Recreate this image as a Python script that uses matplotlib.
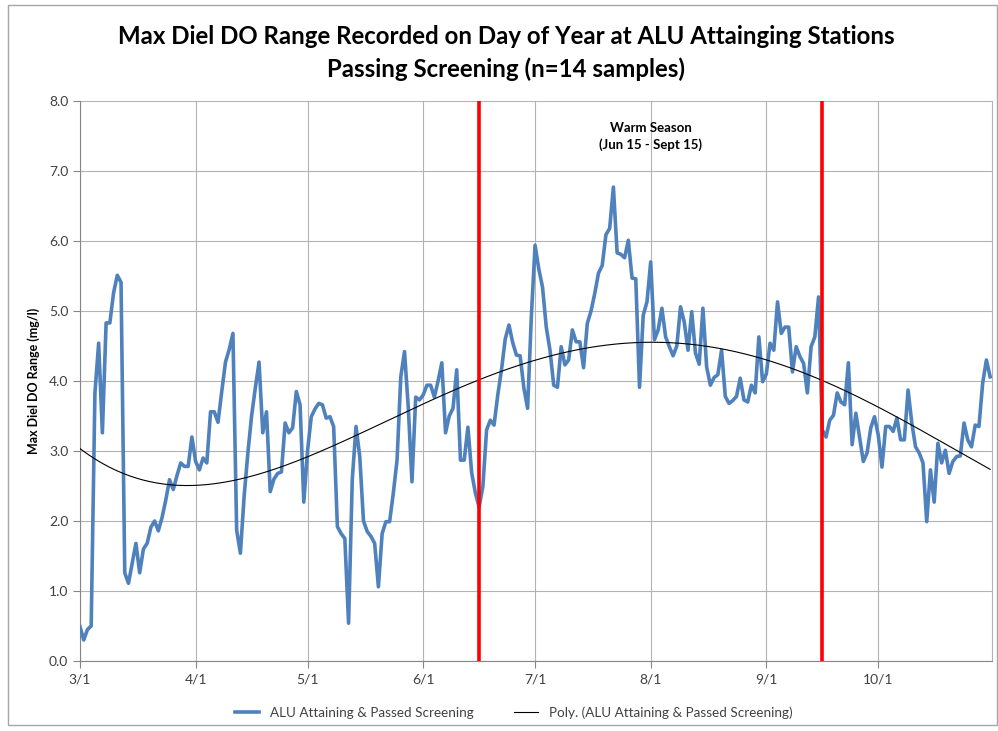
import numpy as np
import matplotlib
matplotlib.use('Agg')
import matplotlib.pyplot as plt
from matplotlib.patches import Rectangle

# max diel DO range per day, starting 3/1
do_range = [
    0.49, 0.30, 0.45, 0.50, 3.83, 4.54, 3.26, 4.83, 4.83, 5.26,
    5.51, 5.41, 1.26, 1.11, 1.40, 1.68, 1.26, 1.60, 1.68, 1.91,
    2.00, 1.86, 2.05, 2.30, 2.59, 2.45, 2.65, 2.83, 2.78, 2.78,
    3.20, 2.85, 2.73, 2.90, 2.83, 3.56, 3.56, 3.41, 3.85, 4.27,
    4.45, 4.68, 1.87, 1.54, 2.35, 2.97, 3.50, 3.90, 4.27, 3.26,
    3.56, 2.42, 2.60, 2.68, 2.70, 3.40, 3.26, 3.33, 3.85, 3.66,
    2.27, 3.00, 3.49, 3.60, 3.68, 3.66, 3.47, 3.49, 3.35, 1.92,
    1.82, 1.75, 0.54, 2.60, 3.35, 2.92, 2.00, 1.85, 1.78, 1.68,
    1.06, 1.82, 1.99, 1.99, 2.40, 2.87, 4.06, 4.42, 3.63, 2.56,
    3.77, 3.73, 3.80, 3.94, 3.94, 3.77, 4.00, 4.26, 3.26, 3.50,
    3.61, 4.16, 2.87, 2.87, 3.34, 2.69, 2.40, 2.20, 2.49, 3.30,
    3.44, 3.37, 3.80, 4.16, 4.60, 4.80, 4.55, 4.37, 4.36, 3.90,
    3.61, 4.92, 5.94, 5.60, 5.34, 4.77, 4.44, 3.94, 3.91, 4.49,
    4.23, 4.30, 4.73, 4.56, 4.56, 4.19, 4.82, 5.00, 5.25, 5.54,
    5.65, 6.09, 6.18, 6.77, 5.83, 5.81, 5.76, 6.01, 5.47, 5.46,
    3.91, 4.94, 5.13, 5.70, 4.59, 4.73, 5.04, 4.63, 4.49, 4.36,
    4.50, 5.06, 4.84, 4.44, 4.99, 4.40, 4.24, 5.04, 4.20, 3.94,
    4.05, 4.09, 4.44, 3.78, 3.68, 3.72, 3.78, 4.04, 3.73, 3.70,
    3.94, 3.83, 4.63, 3.99, 4.10, 4.54, 4.44, 5.13, 4.68, 4.77,
    4.77, 4.13, 4.49, 4.35, 4.25, 3.83, 4.49, 4.63, 5.20, 3.30,
    3.20, 3.44, 3.51, 3.83, 3.70, 3.66, 4.26, 3.09, 3.54, 3.20,
    2.85, 2.97, 3.33, 3.49, 3.23, 2.77, 3.35, 3.35, 3.28, 3.47,
    3.16, 3.16, 3.87, 3.40, 3.06, 2.97, 2.83, 1.99, 2.73, 2.27,
    3.11, 2.83, 3.01, 2.68, 2.85, 2.92, 2.93, 3.40, 3.16, 3.06,
    3.37, 3.35, 3.97, 4.30, 4.06,
]
days = np.arange(len(do_range))

month_days = [0, 31, 61, 92, 122, 153, 184, 214]
month_labels = ['3/1', '4/1', '5/1', '6/1', '7/1', '8/1', '9/1', '10/1']

# warm season bounds (days since 3/1)
warm_season = [107, 199]

series_name = 'ALU Attaining & Passed Screening'

plt.rcParams['font.family'] = ['Lato', 'DejaVu Sans']

fig = plt.figure(figsize=(9.98, 7.31), dpi=100)
ax = fig.add_axes([80 / 998, 70 / 731, 912 / 998, 560 / 731])

# outer chart border
fig.patches.append(Rectangle((8 / 998, 6 / 731), 989 / 998, 720 / 731,
                             transform=fig.transFigure, fill=False,
                             edgecolor='#a6a6a6', linewidth=1.0))

line, = ax.plot(days, do_range, color='#4f81bd', linewidth=2.6,
                label=series_name, zorder=3)

# 4th order polynomial trend line
coef = np.polyfit(days, do_range, 4)
xs = np.linspace(0, days[-1], 400)
trend, = ax.plot(xs, np.polyval(coef, xs), color='black', linewidth=0.8,
                 label='Poly. (' + series_name + ')', zorder=4)

for d in warm_season:
    ax.axvline(d, color='#ff0000', linewidth=2.6, zorder=5)

mid = (warm_season[0] + warm_season[1]) / 2
ax.text(mid, 7.62, 'Warm Season', ha='center', va='center',
        fontsize=9.5, fontweight='bold')
ax.text(mid, 7.37, '(Jun 15 - Sept 15)', ha='center', va='center',
        fontsize=9.5, fontweight='bold')

ax.set_xlim(0, 244.5)
ax.set_ylim(0, 8)
ax.set_xticks(month_days)
ax.set_xticklabels(month_labels)
ax.set_yticks(np.arange(0, 8.1, 1.0))
ax.set_yticklabels(['%.1f' % v for v in np.arange(0, 8.1, 1.0)])
ax.tick_params(axis='both', colors='#868686', labelcolor='#404040',
               labelsize=10, length=5, width=0.8)
ax.tick_params(axis='x', pad=4)
ax.grid(True, color='#b3b3b3', linewidth=0.8)
ax.set_axisbelow(True)
ax.spines['top'].set_visible(False)
ax.spines['right'].set_color('#b3b3b3')
ax.spines['right'].set_linewidth(0.8)
for side in ['left', 'bottom']:
    ax.spines[side].set_color('#868686')

ax.set_ylabel('Max Diel DO Range (mg/l)', fontsize=9, fontweight='bold',
              labelpad=6)

fig.text(0.507, 0.95, 'Max Diel DO Range Recorded on Day of Year at ALU Attainging Stations',
         ha='center', va='center', fontsize=17.3, fontweight='bold')
fig.text(0.507, 0.905, 'Passing Screening (n=14 samples)',
         ha='center', va='center', fontsize=17.3, fontweight='bold')

fig.legend(handles=[line, trend], loc='center', bbox_to_anchor=(0.515, 0.025),
           ncol=2, frameon=False, fontsize=9.7, handlelength=1.8,
           columnspacing=3.0, labelcolor='#404040')

fig.savefig('out.png', dpi=100)
